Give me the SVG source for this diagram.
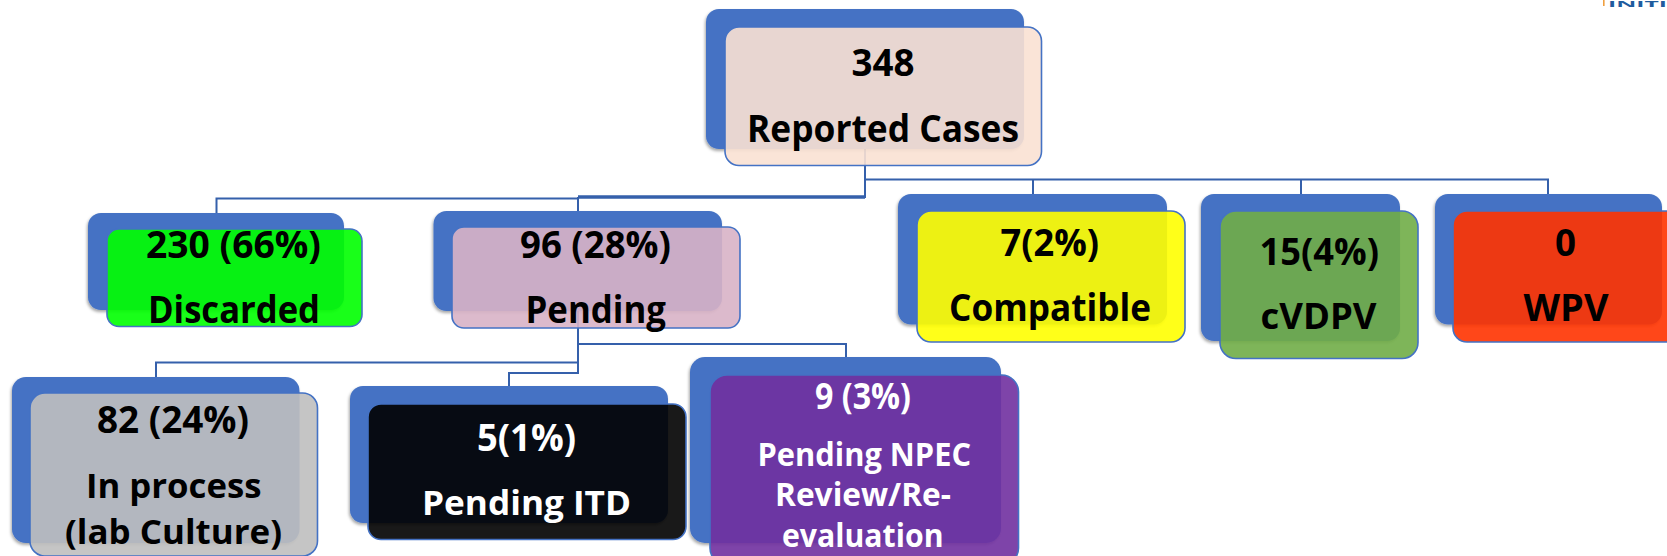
<svg xmlns="http://www.w3.org/2000/svg" width="1667" height="556" viewBox="0 0 1667 556">
  <defs>
    <filter id="sh" x="-5%" y="-5%" width="110%" height="110%">
      <feDropShadow dx="-1" dy="2" stdDeviation="1.5" flood-color="#000" flood-opacity="0.35"/>
    </filter>
  </defs>
  <style>
    .back { fill: #4472C4; filter: url(#sh); }
    .front { fill-opacity: 0.9; stroke: #4472C4; stroke-width: 1.6; }
    .conn { fill: none; stroke: #3560AB; stroke-width: 2; }
    .thick { stroke-width: 3.5; }
    text { font-family: "Open Sans", "Noto Sans", "Liberation Sans", sans-serif; font-weight: 700; fill: #000; }
    .w { fill: #fff; }
  </style>
  <rect width="1667" height="556" fill="#fff"/>

  <g id="logo">
    <rect x="1603" y="0" width="1.6" height="6" fill="#F0A040"/>
    <text x="1608" y="6.500" font-size="8.500" textLength="59" lengthAdjust="spacingAndGlyphs" style="fill:#1F5C9E">INITI</text>
  </g>

  <g id="connectors">
    <path class="conn" d="M865 149V198"/>
    <path class="conn thick" d="M865 197H578"/>
    <path class="conn" d="M865 179.500H1548V194M1033 179.500V194M1301 179.500V194"/>
    <path class="conn" d="M578 198.500H216.500V213M578 197V211"/>
    <path class="conn" d="M578 311V373H509V386M578 344H846V357M578 362.500H156V377"/>
  </g>

  <g id="node-reported">
    <rect class="back" x="706" y="9" width="318" height="140" rx="13"/>
    <rect class="front" x="725" y="27" width="316.500" height="138.500" rx="14" fill="#FAE1D3"/>
    <text x="851.500" y="76" font-size="38" textLength="63" lengthAdjust="spacingAndGlyphs">348</text>
    <text x="747" y="142" font-size="38" textLength="272" lengthAdjust="spacingAndGlyphs">Reported Cases</text>
  </g>

  <g id="node-discarded">
    <rect class="back" x="88" y="213" width="256" height="97" rx="13"/>
    <rect class="front" x="107" y="229" width="255" height="97.500" rx="12" fill="#00FF00"/>
    <text x="146" y="257.500" font-size="38" textLength="175" lengthAdjust="spacingAndGlyphs">230 (66%)</text>
    <text x="148" y="322.500" font-size="37" textLength="172" lengthAdjust="spacingAndGlyphs">Discarded</text>
  </g>

  <g id="node-pending">
    <rect class="back" x="433.500" y="211" width="288.500" height="100" rx="13"/>
    <rect class="front" x="452" y="227" width="288" height="101" rx="12" fill="#D8B2C6"/>
    <text x="520" y="257.500" font-size="38" textLength="151" lengthAdjust="spacingAndGlyphs">96 (28%)</text>
    <text x="525.500" y="322.500" font-size="37" textLength="140.500" lengthAdjust="spacingAndGlyphs">Pending</text>
  </g>

  <g id="node-compatible">
    <rect class="back" x="898" y="194" width="269" height="130.500" rx="13"/>
    <rect class="front" x="917" y="211" width="268" height="131" rx="14" fill="#FFFF00"/>
    <text x="1000.500" y="255.500" font-size="38" textLength="98.500" lengthAdjust="spacingAndGlyphs">7(2%)</text>
    <text x="949" y="320.500" font-size="37" textLength="202" lengthAdjust="spacingAndGlyphs">Compatible</text>
  </g>

  <g id="node-cvdpv">
    <rect class="back" x="1201" y="194" width="199" height="147" rx="13"/>
    <rect class="front" x="1220" y="211" width="198" height="147.500" rx="16" fill="#70AD47"/>
    <text x="1259.500" y="264.500" font-size="37" textLength="119.500" lengthAdjust="spacingAndGlyphs">15(4%)</text>
    <text x="1260.500" y="328.500" font-size="36" textLength="116" lengthAdjust="spacingAndGlyphs">cVDPV</text>
  </g>

  <g id="node-wpv">
    <rect class="back" x="1435" y="194" width="227" height="130.500" rx="13"/>
    <rect class="front" x="1453" y="211" width="227" height="131" rx="14" fill="#FF3300"/>
    <text x="1555" y="255.500" font-size="38" textLength="21" lengthAdjust="spacingAndGlyphs">0</text>
    <text x="1523.500" y="320.500" font-size="37" textLength="85" lengthAdjust="spacingAndGlyphs">WPV</text>
  </g>

  <g id="node-inprocess">
    <rect class="back" x="12" y="377" width="287.500" height="166" rx="14"/>
    <rect class="front" x="30" y="393" width="287.500" height="163" rx="15" fill="#BFBFBF"/>
    <text x="97" y="432.500" font-size="37" textLength="152" lengthAdjust="spacingAndGlyphs">82 (24%)</text>
    <text x="86" y="497.500" font-size="34.500" textLength="175.500" lengthAdjust="spacingAndGlyphs">In process</text>
    <text x="65" y="544" font-size="34.500" textLength="217" lengthAdjust="spacingAndGlyphs">(lab Culture)</text>
  </g>

  <g id="node-itd">
    <rect class="back" x="350" y="386" width="318" height="137" rx="13"/>
    <rect class="front" x="368" y="404" width="318" height="135.500" rx="13" fill="#000000"/>
    <text class="w" x="477" y="450.500" font-size="37" textLength="99" lengthAdjust="spacingAndGlyphs">5(1%)</text>
    <text class="w" x="422" y="515" font-size="34" textLength="209" lengthAdjust="spacingAndGlyphs">Pending ITD</text>
  </g>

  <g id="node-npec">
    <rect class="back" x="690" y="357" width="311" height="186" rx="15"/>
    <rect class="front" x="710" y="375" width="308.500" height="190" rx="17" fill="#7030A0"/>
    <text class="w" x="815" y="409" font-size="35" textLength="96" lengthAdjust="spacingAndGlyphs">9 (3%)</text>
    <text class="w" x="757.500" y="465.500" font-size="32" textLength="213.500" lengthAdjust="spacingAndGlyphs">Pending NPEC</text>
    <text class="w" x="775" y="506" font-size="32" textLength="176" lengthAdjust="spacingAndGlyphs">Review/Re-</text>
    <text class="w" x="782" y="546.500" font-size="32" textLength="161.500" lengthAdjust="spacingAndGlyphs">evaluation</text>
  </g>
</svg>
